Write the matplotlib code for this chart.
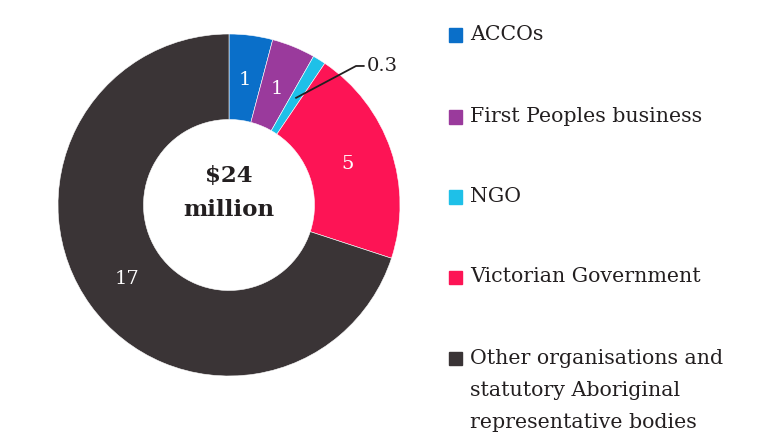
import numpy as np
import matplotlib
matplotlib.use("Agg")
import matplotlib.pyplot as plt
from matplotlib.patches import Rectangle

categories = ["ACCOs", "First Peoples business", "NGO", "Victorian Government",
              "Other organisations and\nstatutory Aboriginal\nrepresentative bodies"]
values = [1, 1, 0.3, 5, 17]
value_labels = ["1", "1", "0.3", "5", "17"]
colors = ["#0a6fc9", "#9a3a9c", "#1ec0e8", "#fd1455", "#3a3436"]
center_text = "$24\nmillion"

plt.rcParams['font.family'] = ['DejaVu Serif']

fig = plt.figure(figsize=(7.58, 4.34), dpi=100)
W, H = 758, 434
cx, cy, R = 229, 205, 171
ax = fig.add_axes([(cx - R) / W, (H - cy - R) / H, 2 * R / W, 2 * R / H])

wedges, _ = ax.pie(values, colors=colors, startangle=90, counterclock=False,
                   radius=1.0, wedgeprops=dict(width=0.5, linewidth=0.4, edgecolor="white"))
ax.set_xlim(-1, 1)
ax.set_ylim(-1, 1)
ax.set_aspect('equal')
ax.axis('off')

r_lab = 0.735
for w, lab, v in zip(wedges, value_labels, values):
    ang = np.deg2rad((w.theta1 + w.theta2) / 2)
    x, y = r_lab * np.cos(ang), r_lab * np.sin(ang)
    if v < 0.5:
        xe, ye = 0.743, 0.813
        ax.plot([x, xe, xe + 0.05], [y, ye, ye], color="#231f20", lw=1.3, solid_capstyle='butt')
        ax.text(xe + 0.065, ye, lab, ha='left', va='center', fontsize=14, color="#231f20")
    else:
        ax.text(x, y, lab, ha='center', va='center', fontsize=14, color="white")

ax.text(0, 0.07, center_text, ha='center', va='center', fontsize=16.5, fontweight='bold',
        color="#231f20", linespacing=1.68)

# legend
ys = [35, 117, 197, 277, 358]
FS = 14.8
for cat, col, yy in zip(categories, colors, ys):
    fig.patches.append(Rectangle((449 / W, (H - yy - 6.5) / H), 13 / W, 13 / H,
                                 transform=fig.transFigure, color=col))
    if '\n' in cat:
        fig.text(470 / W, (H - yy + 9) / H, cat, ha='left', va='top', fontsize=FS,
                 color="#231f20", linespacing=1.85)
    else:
        fig.text(470 / W, (H - yy) / H, cat, ha='left', va='center', fontsize=FS,
                 color="#231f20")

fig.savefig("out.png", dpi=100, facecolor="white")
